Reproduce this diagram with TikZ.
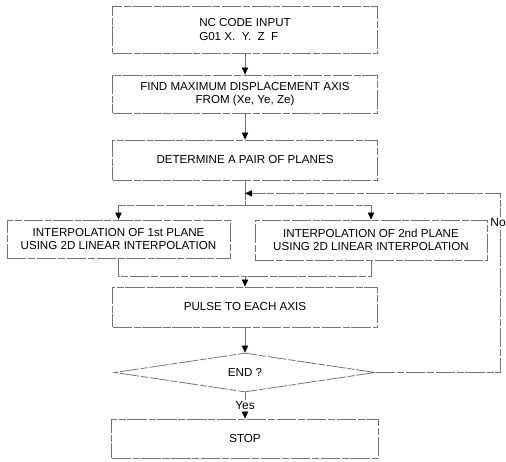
\documentclass[tikz,border=0pt]{standalone}
\usepackage{fontspec}
\setmainfont{Liberation Sans}
\usetikzlibrary{arrows.meta,shapes.geometric}

\tikzset{
  line/.style={draw=black!55, line width=0.45pt, dash pattern=on 11pt off 1pt on 4pt off 1pt},
  flow/.style={line, -{Triangle[length=4pt,width=3.6pt,color=black]}},
  box/.style={line, rectangle, inner sep=1pt, align=center, font=\fontsize{6.6}{7.6}\selectfont},
  decision/.style={box, diamond, aspect=6, inner sep=0pt},
  tag/.style={font=\fontsize{6.8}{8}\selectfont, fill=white, inner sep=0.5pt},
}

\begin{document}
\begin{tikzpicture}[x=0.02cm, y=-0.02cm]
  %%%%% START %%%%%
  \useasboundingbox (0,0) rectangle (506,462);

  % main column
  \node[box, align=left, minimum width=5.3cm, minimum height=0.94cm] (input) at (245,29.5) {NC CODE INPUT\\G01 X.~~Y.~~Z~~F};
  \node[box, minimum width=5.3cm, minimum height=0.76cm] (find) at (245,94) {FIND MAXIMUM DISPLACEMENT AXIS\\FROM (Xe, Ye, Ze)};
  \node[box, minimum width=5.3cm, minimum height=0.8cm] (pair) at (245,160) {DETERMINE A PAIR OF PLANES};

  % the two planes
  \node[box, minimum width=4.46cm, minimum height=0.76cm] (interp1) at (118.5,239) {INTERPOLATION OF 1st PLANE\\USING 2D LINEAR INTERPOLATION};
  \node[box, minimum width=4.64cm, minimum height=0.8cm] (interp2) at (371,240) {INTERPOLATION OF 2nd PLANE\\USING 2D LINEAR INTERPOLATION};

  \node[box, minimum width=5.3cm, minimum height=0.8cm] (pulse) at (245,307) {PULSE TO EACH AXIS};
  \node[decision, minimum width=5.22cm, minimum height=0.78cm] (end) at (245,372.5) {END ?};
  \node[box, minimum width=5.34cm, minimum height=0.78cm] (stop) at (245,438.5) {STOP};

  % helper points
  \coordinate (back) at ([yshift=-0.26cm]pair.south);
  \coordinate (split) at ([yshift=-0.5cm]pair.south);
  \coordinate (merge) at ([yshift=0.2cm]pulse.north);
  \coordinate (turn) at (500,372.5);

  % connectors
  \draw[flow] (input) -- (find);
  \draw[flow] (find) -- (pair);
  \draw[line] (pair.south) -- (split);
  \draw[flow] (split) -| (interp1.north);
  \draw[flow] (split) -| (interp2.north);
  \draw[line] (interp1.south) |- (merge);
  \draw[line] (interp2.south) |- (merge);
  \draw[flow] (merge) -- (pulse.north);
  \draw[flow] (pulse) -- (end);
  \draw[flow] (end) -- node[tag] (yes) {Yes} (stop);

  % loop back when not finished
  \draw[flow] (end.east) -- (turn) |- (back);
  \node[tag] (no) at (498,222) {No};
  %%%%% END %%%%%
\end{tikzpicture}
\end{document}
